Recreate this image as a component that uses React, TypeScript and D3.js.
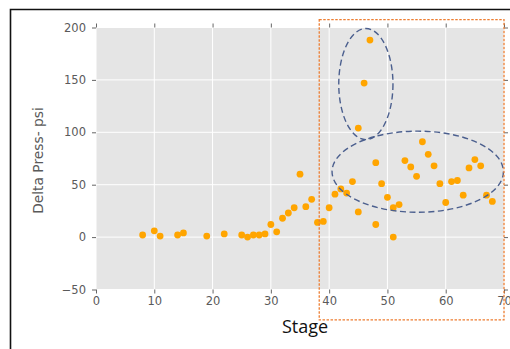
import React, { useEffect, useRef } from "react";
import * as d3 from "d3";

// values
const stage = [
  8, 10, 11, 14, 15, 19, 22, 25, 26, 27, 28, 29, 30, 31, 32, 33, 34, 35, 36, 37,
  38, 39, 40, 41, 42, 43, 44, 45, 45, 46, 47, 48, 48, 49, 50, 51, 51, 52, 53,
  54, 55, 56, 57, 58, 59, 60, 61, 62, 63, 64, 65, 66, 67, 68,
];
const deltaPress = [
  2, 6, 1, 2, 4, 1, 3, 2, 0, 2, 2, 3, 12, 5, 18, 23, 28, 60, 29, 36,
  14, 15, 28, 41, 46, 42, 53, 104, 24, 147, 188, 71, 12, 51, 38, 28, 0, 31, 73,
  67, 58, 91, 79, 68, 51, 33, 53, 54, 40, 66, 74, 68, 40, 34,
];
const xTicks = [0, 10, 20, 30, 40, 50, 60, 70];
const yTicks = [-50, 0, 50, 100, 150, 200];

// annotation shapes, in data units
const ellipseCx = [46.3, 55.2];
const ellipseCy = [146, 62.4];
const ellipseRx = [4.65, 14.7];
const ellipseRy = [53, 38.7];
const boxX = [38.3, 70];
const boxY = [207.5, -79];

const W = 510;
const H = 349;

const App = () => {
  const svgRef = useRef<SVGSVGElement>(null);

  useEffect(() => {
    const svg = d3.select(svgRef.current);
    svg.selectAll("*").remove();

    const left = 96;
    const right = 504;
    const top = 27.5;
    const bottom = 289.5;

    const x = d3.scaleLinear().domain([0, 70]).range([left, right]);
    const y = d3.scaleLinear().domain([-50, 200]).range([bottom, top]);

    svg.append("rect").attr("width", W).attr("height", H).attr("fill", "#fff");

    // slide frame
    svg
      .append("path")
      .attr("d", `M10.5,${H} V9.5 H${W}`)
      .attr("fill", "none")
      .attr("stroke", "#111")
      .attr("stroke-width", 1.6);

    svg
      .append("rect")
      .attr("x", left)
      .attr("y", top)
      .attr("width", right - left)
      .attr("height", bottom - top)
      .attr("fill", "#E5E5E5");

    const g = svg.append("g");
    g.selectAll(".vgrid")
      .data(xTicks)
      .enter()
      .append("line")
      .attr("x1", (d) => x(d))
      .attr("x2", (d) => x(d))
      .attr("y1", top)
      .attr("y2", bottom)
      .attr("stroke", "#fff")
      .attr("stroke-width", 1);
    g.selectAll(".hgrid")
      .data(yTicks)
      .enter()
      .append("line")
      .attr("y1", (d) => y(d))
      .attr("y2", (d) => y(d))
      .attr("x1", left)
      .attr("x2", right)
      .attr("stroke", "#fff")
      .attr("stroke-width", 1);

    const tickStyle = (sel: any) => {
      sel.select(".domain").remove();
      sel.selectAll(".tick line").attr("stroke", "#555").attr("stroke-width", 0.9);
      sel
        .selectAll(".tick text")
        .attr("fill", "#5a5a5a")
        .attr("font-family", "DejaVu Sans, sans-serif")
        .attr("font-size", 11.5);
    };

    svg
      .append("g")
      .attr("transform", `translate(0,${bottom})`)
      .call(d3.axisBottom(x).tickValues(xTicks).tickSize(4).tickPadding(3))
      .call(tickStyle);
    svg
      .append("g")
      .attr("transform", `translate(0,${top})`)
      .call(d3.axisTop(x).tickValues(xTicks).tickSize(4).tickFormat(() => ""))
      .call(tickStyle);
    svg
      .append("g")
      .attr("transform", `translate(${left},0)`)
      .call(
        d3
          .axisLeft(y)
          .tickValues(yTicks)
          .tickSize(4)
          .tickPadding(6)
          .tickFormat((d: any) => (d < 0 ? "\u2212" + Math.abs(d) : String(d)))
      )
      .call(tickStyle);
    svg
      .append("g")
      .attr("transform", `translate(${right},0)`)
      .call(d3.axisRight(y).tickValues(yTicks).tickSize(4).tickFormat(() => ""))
      .call(tickStyle);

    // y label
    svg
      .append("text")
      .attr("text-anchor", "middle")
      .attr("transform", `translate(43,${(top + bottom) / 2 + 2}) rotate(-90)`)
      .attr("font-family", "DejaVu Sans, sans-serif")
      .attr("font-size", 13.8)
      .attr("fill", "#5a5a5a")
      .text("Delta Press- psi");

    // x label
    svg
      .append("text")
      .attr("text-anchor", "middle")
      .attr("x", 305)
      .attr("y", 333)
      .attr("font-family", "Open Sans, sans-serif")
      .attr("font-size", 18)
      .attr("fill", "#111")
      .text("Stage");

    svg
      .selectAll(".dot")
      .data(stage)
      .enter()
      .append("circle")
      .attr("class", "dot")
      .attr("cx", (d) => x(d))
      .attr("cy", (_d, i) => y(deltaPress[i]))
      .attr("r", 3.4)
      .attr("fill", "#FFA500");

    // dashed ellipses
    svg
      .selectAll(".ell")
      .data(ellipseCx)
      .enter()
      .append("ellipse")
      .attr("cx", (d) => x(d))
      .attr("cy", (_d, i) => y(ellipseCy[i]))
      .attr("rx", (_d, i) => x(ellipseRx[i]) - x(0))
      .attr("ry", (_d, i) => y(0) - y(ellipseRy[i]))
      .attr("fill", "none")
      .attr("stroke", "#4B5F8E")
      .attr("stroke-width", 1.4)
      .attr("stroke-dasharray", "6 3.5");

    // dotted box
    svg
      .append("rect")
      .attr("x", x(boxX[0]))
      .attr("y", y(boxY[0]))
      .attr("width", x(boxX[1]) - x(boxX[0]))
      .attr("height", y(boxY[1]) - y(boxY[0]))
      .attr("fill", "none")
      .attr("stroke", "#ED7D31")
      .attr("stroke-width", 1.3)
      .attr("stroke-dasharray", "2.5 1.5");
  }, []);

  return (
    <svg
      ref={svgRef}
      width={W}
      height={H}
      style={{ position: "absolute", left: 0, top: 0 }}
    ></svg>
  );
};

export default App;
